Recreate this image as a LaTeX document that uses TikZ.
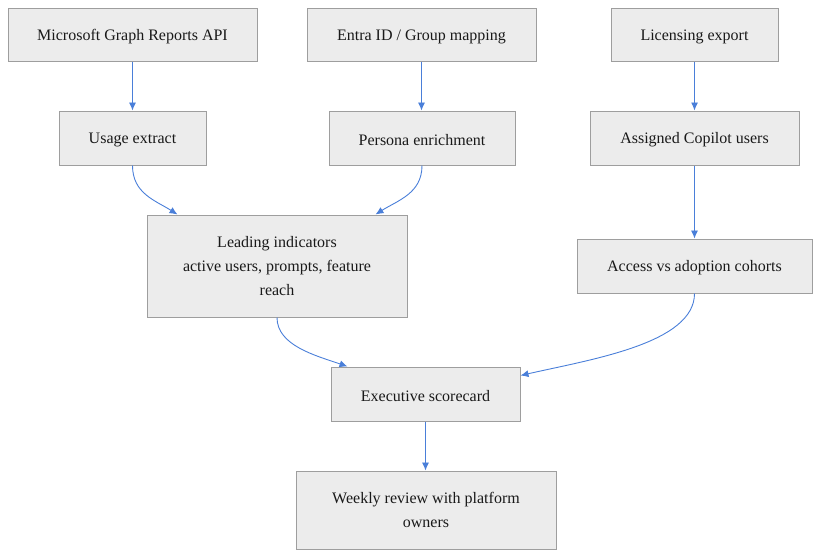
\documentclass[tikz,border=0pt]{standalone}
\usepackage{fontspec}
\setmainfont{Liberation Serif}
\usetikzlibrary{arrows.meta,calc}
\definecolor{boxfill}{HTML}{ECECEC}
\definecolor{boxline}{HTML}{9E9E9E}
\definecolor{arrowblue}{HTML}{4A7FD9}
\tikzset{
  box/.style={draw=boxline, fill=boxfill, line width=1pt, inner sep=0pt, align=center,
    font=\fontsize{16pt}{24pt}\selectfont, text=black!90,
    execute at begin node={\rule{0pt}{14.5pt}}},
  link/.style={draw=arrowblue, line width=0.9pt, -{Latex[length=8pt,width=7pt]}}
}
\begin{document}
\begin{tikzpicture}[x=1pt,y=-1pt]
\useasboundingbox (0,0) rectangle (820,558);
\node[box, minimum width=249pt, minimum height=53pt] (graph) at (132.5,34.5) {Microsoft Graph Reports API};
\node[box, minimum width=229pt, minimum height=53pt] (entra) at (421.5,34.5) {Entra ID / Group mapping};
\node[box, minimum width=167pt, minimum height=53pt] (lic) at (694.5,34.5) {Licensing export};
\node[box, minimum width=147pt, minimum height=54pt] (usage) at (132.5,138) {Usage extract};
\node[box, minimum width=186pt, minimum height=54pt] (persona) at (422,138) {Persona enrichment};
\node[box, minimum width=209pt, minimum height=54pt] (assigned) at (694.5,138) {Assigned Copilot users};
\node[box, minimum width=260pt, minimum height=102pt] (lead) at (277,266) {Leading indicators\\active users, prompts, feature\\reach};
\node[box, minimum width=235pt, minimum height=54pt] (access) at (694.5,266) {Access vs adoption cohorts};
\node[box, minimum width=189pt, minimum height=54pt] (exec) at (425.5,394) {Executive scorecard};
\node[box, minimum width=260pt, minimum height=78pt] (weekly) at (426,510) {Weekly review with platform\\owners};

\draw[link] (graph.south) -- (usage.north);
\draw[link] (entra.south) -- (entra.south |- persona.north);
\draw[link] (lic.south) -- (assigned.north);
\draw[link] (assigned.south) -- (access.north);
\draw[link] (exec.south) -- (exec.south |- weekly.north);

\draw[link] (usage.south) .. controls +(0,28) and +(-22,-14) .. ($(lead.north west)+(31,0)$);
\draw[link] (persona.south) .. controls +(0,28) and +(22,-14) .. ($(lead.north west)+(229,0)$);
\draw[link] (lead.south) .. controls +(0,28) and +(-32,-11) .. ($(exec.north west)+(17,0)$);
\draw[link] (access.south) .. controls +(0,50) and +(70,-16) .. ($(exec.north east)+(0,9)$);
\end{tikzpicture}
\end{document}
